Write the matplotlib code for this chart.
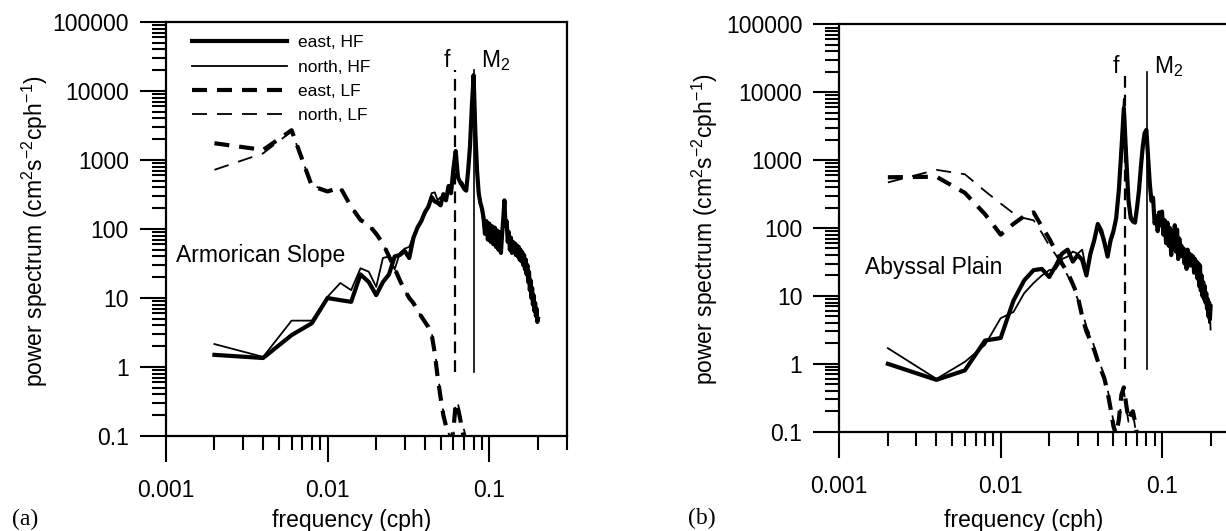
"""Two-panel rotary power spectra (HF / LF, east / north) on log-log axes."""
import numpy as np
import matplotlib
matplotlib.use("Agg")
import matplotlib.pyplot as plt
from matplotlib.ticker import LogLocator, FuncFormatter, NullFormatter

plt.rcParams['font.family'] = ['Liberation Sans', 'DejaVu Sans']
plt.rcParams['mathtext.fontset'] = 'custom'
plt.rcParams['mathtext.rm'] = 'Liberation Sans'
plt.rcParams['mathtext.it'] = 'Liberation Sans:italic'
plt.rcParams['mathtext.default'] = 'rm'
plt.rcParams['lines.scale_dashes'] = False

# frequency grid of the spectra (cph), resolution 0.002 cph
df = 0.002
freq = df * np.arange(1, 101)

# tidal / inertial frequencies (cph)
m2_freq = 0.0805
f_slope = 0.0617
f_plain = 0.0589
ref_lo, ref_hi = 0.85, 2.0e4

# ---- (a) Armorican Slope ----
slope_east_hf = [1.5, 1.35, 2.9, 4.3, 10, 9.3, 8.8, 22, 17, 11,
                 17, 22, 40, 42, 48, 38, 75, 105, 130, 175,
                 210, 290, 250, 240, 220, 320, 260, 420, 330, 750,
                 1350, 560, 480, 430, 380, 360, 700, 1600, 6000, 17000,
                 2500, 700, 330, 240, 200, 150, 85, 130, 70, 120,
                 65, 110, 60, 105, 55, 95, 50, 90, 45, 85,
                 140, 260, 110, 130, 65, 90, 50, 75, 45, 65,
                 48, 62, 42, 58, 40, 55, 36, 50, 34, 46,
                 30, 42, 26, 36, 22, 30, 17, 24, 13, 18,
                 10, 14, 8, 11, 6.5, 8.5, 5.5, 7, 4.5, 5]
slope_north_hf = [2.15, 1.4, 4.7, 4.7, 10.4, 16.5, 13, 27, 24, 14.5,
                  38, 40, 26, 45, 52, 55, 80, 110, 140, 160,
                  220, 330, 340, 260, 290, 280, 300, 380, 360, 700,
                  1200, 650, 450, 480, 420, 400, 800, 2000, 7000, 15000,
                  3000, 800, 380, 270, 180, 110, 140, 80, 115, 75,
                  100, 70, 95, 65, 90, 60, 80, 55, 75, 65,
                  180, 200, 140, 95, 85, 70, 80, 58, 72, 50,
                  58, 45, 55, 42, 52, 40, 48, 36, 44, 32,
                  38, 28, 33, 24, 28, 19, 23, 15, 18, 12,
                  13, 9, 11, 7, 8.5, 6, 7, 5, 6, 4.5]
slope_east_lf = [1750, 1400, 2700, 420, 350, 400, 210, 135, 115, 85,
                 62, 40, 27, 18, 13, 10, 8.4, 6.7, 5.4, 4.5,
                 3.8, 3.0, 1.6, 0.7, 0.36, 0.2, 0.14, 0.1, 0.085, 0.12,
                 0.3, 0.25, 0.18, 0.12, 0.09]
slope_north_lf = [720, 1250, 2600, 430, 360, 390, 220, 130, 110, 90,
                  60, 42, 28, 17, 12.5, 10.5, 8, 7, 5.2, 4.6,
                  3.6, 3.2, 1.8, 0.8, 0.4, 0.22, 0.15, 0.11, 0.09, 0.1,
                  0.32, 0.3, 0.2, 0.15, 0.12, 0.09]

# ---- (b) Abyssal Plain ----
plain_east_hf = [1.0, 0.58, 0.8, 2.2, 2.4, 8.5, 17, 24, 25, 19,
                 28, 42, 48, 32, 40, 34, 20, 42, 66, 115,
                 92, 60, 38, 66, 90, 140, 360, 1400, 5800, 1100,
                 250, 140, 125, 120, 200, 360, 800, 1600, 2500, 2800,
                 1100, 450, 250, 280, 117, 150, 90, 170, 110, 175,
                 80, 130, 60, 120, 55, 100, 40, 90, 50, 110,
                 45, 95, 35, 70, 45, 55, 38, 50, 30, 45,
                 25, 48, 35, 42, 28, 40, 30, 38, 22, 35,
                 25, 32, 18, 30, 14, 28, 12, 20, 10, 16,
                 9, 14, 8, 11, 6.5, 9, 5, 8, 4.5, 7]
plain_north_hf = [1.7, 0.6, 1.07, 1.9, 4.7, 5.8, 11, 15.5, 20, 24,
                  25, 35, 38, 45, 42, 48, 24, 38, 60, 100,
                  80, 70, 45, 60, 80, 160, 450, 2000, 8000, 1500,
                  300, 160, 130, 140, 180, 300, 650, 1300, 2200, 2600,
                  1300, 500, 300, 220, 140, 120, 130, 100, 150, 95,
                  120, 75, 110, 65, 95, 60, 80, 55, 75, 60,
                  85, 50, 65, 40, 55, 42, 50, 35, 45, 32,
                  40, 30, 42, 30, 36, 28, 34, 26, 32, 24,
                  30, 20, 26, 18, 22, 15, 18, 12, 15, 10,
                  12, 9, 10, 7, 8, 5.5, 7, 4, 5.5, 3.2]
plain_east_lf = [560, 570, 330, 160, 80, 115, 150, 170, 105, 70,
                 45, 30, 22, 15, 10, 5, 3, 2.2, 1.6, 1.1,
                 0.8, 0.6, 0.38, 0.22, 0.12, 0.09, 0.15, 0.35, 0.45, 0.25,
                 0.15, 0.18, 0.2, 0.14, 0.09]
plain_north_lf = [470, 720, 620, 350, 230, 165, 140, 130, 85, 55,
                  40, 28, 20, 14, 9, 6, 3.5, 2.6, 1.8, 1.2,
                  0.9, 0.65, 0.42, 0.25, 0.14, 0.1, 0.13, 0.3, 0.4, 0.22,
                  0.14, 0.16, 0.19, 0.12, 0.08]

labels = ["east, HF", "north, HF", "east, LF", "north, LF"]
FS = 16.5


def ytick_fmt(v, pos):
    return "0.1" if v < 0.5 else f"{v:.0f}"


def xtick_fmt(v, pos):
    return f"{v:g}"


def panel(ax, e_hf, n_hf, e_lf, n_lf, f_in, site, site_xy, txt_y,
          xlab_xy, ylab_xy):
    l1, = ax.plot(freq[:len(e_hf)], e_hf, color="k", lw=3.0)
    l2, = ax.plot(freq[:len(n_hf)], n_hf, color="k", lw=1.3)
    l3, = ax.plot(freq[:len(e_lf)], e_lf, color="k", lw=3.0, dashes=(10.8, 7.2))
    l4, = ax.plot(freq[:len(n_lf)], n_lf, color="k", lw=1.3, dashes=(10.8, 7.2))

    # inertial and M2 markers
    ax.plot([f_in, f_in], [ref_lo, ref_hi], color="k", lw=1.6, dashes=(8.5, 5.0))
    ax.plot([m2_freq, m2_freq], [ref_lo, ref_hi], color="k", lw=1.2)
    ax.text(f_in / 1.08, txt_y, "f", fontsize=FS, ha="right", va="center")
    ax.text(m2_freq * 1.11, txt_y, "M$_2$", fontsize=FS, ha="left", va="center")

    ax.text(site_xy[0], site_xy[1], site, fontsize=FS, ha="left", va="center",
            transform=ax.transAxes)

    ax.set_xscale("log")
    ax.set_yscale("log")
    ax.set_xlim(0.001, 0.3)
    ax.set_ylim(0.1, 1e5)
    ax.xaxis.set_major_locator(LogLocator(base=10, numticks=10))
    ax.xaxis.set_minor_locator(LogLocator(base=10, subs=np.arange(2, 10), numticks=30))
    ax.yaxis.set_major_locator(LogLocator(base=10, numticks=10))
    ax.yaxis.set_minor_locator(LogLocator(base=10, subs=np.arange(2, 10), numticks=30))
    ax.xaxis.set_major_formatter(FuncFormatter(xtick_fmt))
    ax.yaxis.set_major_formatter(FuncFormatter(ytick_fmt))
    ax.xaxis.set_minor_formatter(NullFormatter())
    ax.yaxis.set_minor_formatter(NullFormatter())
    ax.tick_params(which="major", direction="out", length=18.5, width=1.5,
                   labelsize=FS)
    ax.tick_params(which="minor", direction="out", length=10, width=1.5)
    ax.tick_params(axis="x", which="major", pad=12.5)
    ax.tick_params(axis="y", which="major", pad=8)
    for s in ax.spines.values():
        s.set_linewidth(1.6)

    ax.set_xlabel("frequency (cph)", fontsize=FS, va="center")
    ax.xaxis.set_label_coords(*xlab_xy)
    ax.set_ylabel("power spectrum (cm$^2$s$^{-2}$cph$^{-1}$)", fontsize=FS,
                  va="center")
    ax.yaxis.set_label_coords(*ylab_xy)
    return [l1, l2, l3, l4]


fig = plt.figure(figsize=(12.26, 5.31), dpi=100)
W, H = 1226.0, 531.0
ax_a = fig.add_axes([165.7 / W, (H - 436) / H, 400.8 / W, 414 / H])
ax_b = fig.add_axes([839.3 / W, (H - 431.7) / H, 399.7 / W, 407.3 / H])

handles = panel(ax_a, slope_east_hf, slope_north_hf, slope_east_lf, slope_north_lf,
                f_slope, "Armorican Slope", (0.026, 0.435), 2.8e4,
                (0.465, -0.205), (-0.327, 0.495))
panel(ax_b, plain_east_hf, plain_north_hf, plain_east_lf, plain_north_lf,
      f_plain, "Abyssal Plain", (0.064, 0.402), 2.4e4,
      (0.462, -0.219), (-0.336, 0.498))

ax_a.legend(handles, labels, loc="upper left", bbox_to_anchor=(0.0656, 0.968),
            frameon=False, fontsize=12.5, handlelength=5.5, handletextpad=0.6,
            labelspacing=0.53, borderpad=0, borderaxespad=0)

fig.text(25 / W, (H - 519) / H, "(a)", fontsize=17, family="Liberation Serif",
         ha="center", va="center")
fig.text(702 / W, (H - 518) / H, "(b)", fontsize=17, family="Liberation Serif",
         ha="center", va="center")

fig.savefig("out.png", dpi=100, facecolor="white")
